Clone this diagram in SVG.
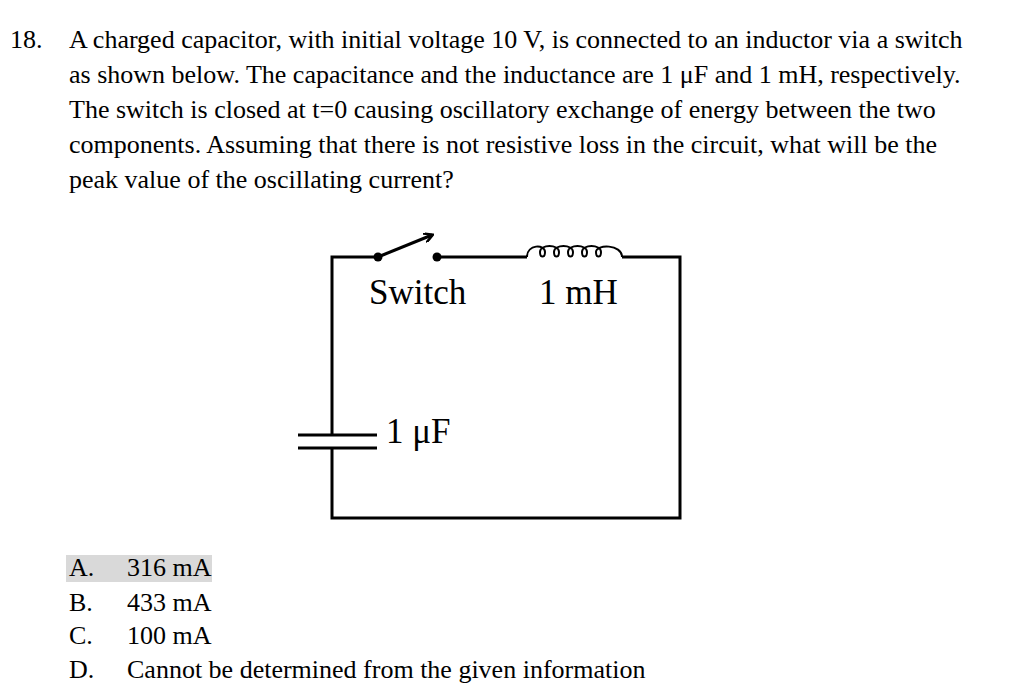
<svg xmlns="http://www.w3.org/2000/svg" width="1024" height="687" viewBox="0 0 1024 687">
<style>
text{font-family:"Liberation Serif","Times New Roman",serif;font-size:26px;fill:#000}
.big{font-size:35px}
.w{stroke:#000;stroke-width:3;fill:none}
</style>
<defs><marker id="ah" markerWidth="10" markerHeight="10" refX="8" refY="5" orient="auto" markerUnits="userSpaceOnUse"><path d="M0,0 L9,5 L0,10" fill="none" stroke="#000" stroke-width="2.5"/></marker></defs>
<rect width="1024" height="687" fill="#fff"/>
<g id="question">
<text x="10" y="48">18.</text>
<text x="69" y="48">A charged capacitor, with initial voltage 10 V, is connected to an inductor via a switch</text>
<text x="69" y="83">as shown below. The capacitance and the inductance are 1 μF and 1 mH, respectively.</text>
<text x="69" y="118">The switch is closed at t=0 causing oscillatory exchange of energy between the two</text>
<text x="69" y="153">components. Assuming that there is not resistive loss in the circuit, what will be the</text>
<text x="69" y="188">peak value of the oscillating current?</text>
</g>
<g id="connectors">
<path class="w" d="M378,257 H332 V435 M332,448 V518 H680 V257 H622 M527,257 H437"/>
</g>
<g id="switch">
<circle cx="378" cy="257" r="4.5"/><circle cx="437" cy="257" r="4.5"/>
<line class="w" x1="378" y1="257" x2="432" y2="235" marker-end="url(#ah)"/>
<text class="big" x="369" y="304">Switch</text>
</g>
<g id="inductor">
<path stroke="#000" stroke-width="2" fill="none" d="M527,257 C527,244 545,244 545,252 C545,258 540,258 540,252 C540,244 559,244 559,252 C559,258 554,258 554,252 C554,244 573,244 573,252 C573,258 568,258 568,252 C568,244 587,244 587,252 C587,258 582,258 582,252 C582,244 601,244 601,252 C601,258 596,258 596,252 C596,244 622,244 622,257"/>
<text class="big" x="539" y="304">1 mH</text>
</g>
<g id="capacitor">
<line class="w" x1="298" y1="435" x2="377" y2="435"/>
<line class="w" x1="298" y1="448" x2="377" y2="448"/>
<text class="big" x="386" y="443">1 μF</text>
</g>
<g id="options">
<rect x="66" y="555" width="146" height="27" fill="#d9d9d9"/>
<text x="69" y="576">A.</text><text x="127" y="576">316 mA</text>
<text x="69" y="611">B.</text><text x="127" y="611">433 mA</text>
<text x="69" y="644">C.</text><text x="127" y="644">100 mA</text>
<text x="69" y="678">D.</text><text x="127" y="678">Cannot be determined from the given information</text>
</g>
</svg>
